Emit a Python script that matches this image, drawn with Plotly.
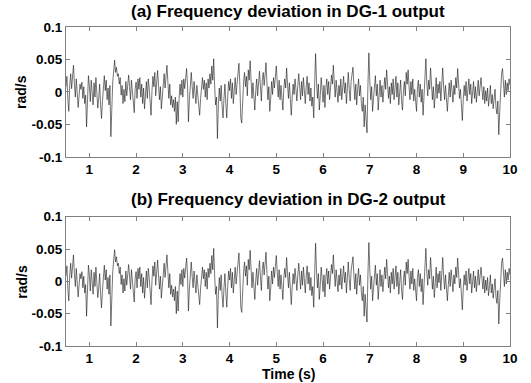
import plotly.graph_objects as go

# Sampling of the recorded traces (s)
t_start = 0.5
dt = 0.02

# Frequency deviation in DG-1 output (rad/s)
dg1_freq = [
    0.008, 0.024, -0.012, -0.030, 0.010, 0.028, 0.005, 0.018, 0.041, 0.012,
    -0.008, 0.020, 0.003, -0.024, -0.006, 0.012, 0.004, 0.015, -0.010, 0.008,
    -0.018, -0.005, -0.054, -0.012, 0.025,
    0.010, -0.015, 0.018, 0.002, -0.020, 0.014, -0.008, 0.022, 0.000, -0.025,
    -0.010, 0.012, -0.020, -0.041, -0.015, 0.008, 0.025, 0.002, 0.018, -0.012,
    0.006, -0.020, 0.010, -0.069, -0.018,
    0.015, 0.032, 0.049, 0.030, 0.038, 0.024, 0.028, 0.012, 0.022, -0.005,
    0.010, -0.018, 0.004, -0.015, 0.016, -0.006, 0.012, 0.026, 0.008, -0.012,
    0.018, 0.002, -0.014, -0.032, 0.005,
    0.015, -0.010, 0.020, 0.004, 0.022, -0.008, 0.012, -0.018, 0.006, -0.026,
    -0.004, 0.016, -0.010, 0.020, 0.006, -0.014, -0.036, 0.002, 0.024, 0.008,
    0.030, -0.006, 0.018, 0.033, 0.010,
    -0.012, 0.008, -0.026, -0.008, 0.014, 0.028, 0.006, 0.022, 0.041, 0.015,
    -0.010, 0.012, -0.020, -0.006, -0.024, -0.012, -0.030, -0.008, -0.050, -0.015,
    -0.046, -0.010, 0.012, -0.005, 0.018,
    -0.008, 0.020, 0.005, 0.026, 0.036, 0.010, -0.046, -0.012, 0.014, 0.030,
    0.008, -0.010, 0.016, 0.002, -0.018, 0.010, -0.006, -0.022, -0.036, -0.010,
    0.012, 0.022, 0.004, 0.018, -0.008,
    0.014, -0.012, 0.020, 0.006, 0.028, 0.012, 0.040, 0.018, 0.051, 0.010,
    -0.020, -0.008, -0.072, -0.020, 0.006, -0.014, 0.010, -0.022, -0.040, -0.010,
    0.012, -0.018, -0.040, -0.008, 0.016,
    0.002, 0.020, -0.010, 0.014, -0.018, 0.006, 0.022, -0.004, 0.012, 0.028,
    0.044, 0.010, -0.040, -0.048, -0.012, 0.015, 0.030, 0.008, 0.024, -0.006,
    0.034, 0.018, 0.048, 0.012, -0.010,
    0.014, -0.016, -0.028, 0.002, 0.020, -0.006, 0.016, 0.032, 0.008, -0.014,
    0.018, 0.030, 0.010, 0.026, 0.045, 0.012, -0.012, 0.008, -0.030, -0.010,
    0.016, -0.004, 0.022, 0.006, 0.028,
    0.040, 0.014, -0.008, 0.018, -0.012, 0.010, -0.020, -0.028, 0.004, 0.020,
    0.006, 0.037, 0.012, -0.010, 0.014, -0.016, -0.036, -0.008, 0.012, -0.004,
    0.020, 0.004, -0.014, 0.010, 0.028,
    0.008, -0.012, 0.016, -0.006, 0.022, 0.004, -0.018, 0.008, 0.024, -0.004,
    0.014, -0.014, 0.006, -0.022, -0.008, -0.040, 0.010, 0.059, 0.016, -0.010,
    0.012, -0.028, -0.006, 0.022, 0.004,
    -0.016, 0.010, -0.024, 0.006, 0.020, -0.004, 0.016, -0.012, 0.008, 0.026,
    0.012, 0.041, 0.014, -0.008, 0.018, 0.002, -0.016, 0.010, -0.006, 0.020,
    -0.012, 0.006, 0.024, -0.002, 0.014,
    -0.018, 0.008, 0.030, 0.004, -0.014, 0.016, 0.026, 0.038, 0.010, -0.012,
    0.012, -0.020, 0.004, 0.020, -0.006, 0.010, -0.018, -0.030, -0.008, -0.054,
    -0.020, -0.040, -0.063, 0.010, 0.060,
    0.018, -0.012, 0.008, -0.030, -0.010, 0.014, 0.025, -0.006, 0.012, -0.028,
    0.002, 0.018, -0.008, 0.010, -0.016, 0.006, 0.022, 0.004, 0.034, 0.012,
    -0.010, 0.008, -0.018, 0.014, -0.004,
    0.020, -0.012, 0.006, 0.024, -0.008, 0.014, -0.020, 0.004, 0.018, -0.014,
    -0.028, 0.002, 0.016, -0.006, 0.030, 0.012, 0.034, 0.008, -0.012, 0.016,
    -0.004, 0.020, -0.014, 0.004, -0.020,
    -0.030, 0.006, 0.018, -0.008, 0.012, -0.016, 0.004, -0.036, -0.010, 0.020,
    0.051, 0.014, -0.006, 0.018, 0.004, 0.037, 0.010, -0.012, 0.008, -0.025,
    -0.004, 0.022, -0.010, 0.012, -0.002,
    0.016, -0.014, 0.020, 0.037, 0.008, -0.012, 0.010, -0.022, -0.030, -0.006,
    0.014, -0.008, 0.018, 0.002, -0.016, 0.010, -0.004, 0.022, 0.006, 0.036,
    0.012, -0.010, 0.004, -0.020, -0.044,
    -0.012, 0.010, -0.006, 0.016, -0.014, 0.006, 0.020, -0.004, 0.012, -0.018,
    0.002, 0.016, -0.010, 0.008, -0.016, 0.004, 0.018, -0.006, 0.010, 0.022,
    0.004, -0.012, 0.008, -0.018, 0.002,
    -0.014, 0.006, -0.022, -0.008, 0.010, -0.018, -0.004, -0.026, -0.010, 0.004,
    -0.024, -0.034, -0.014, -0.066, -0.030, 0.008, 0.028, 0.036, 0.010, -0.008,
    0.018, -0.004, 0.014, 0.002, 0.020, 0.010,
]

# Frequency deviation in DG-2 output (rad/s): the picture shows the same trace
dg2_freq = list(dg1_freq)

time_s = [round(t_start + dt * i, 2) for i in range(len(dg1_freq))]

x_ticks = [1, 2, 3, 4, 5, 6, 7, 8, 9, 10]
y_ticks = [-0.1, -0.05, 0, 0.05, 0.1]
y_tick_text = ["-0.1", "-0.05", "0", "0.05", "0.1"]

titles = ["(a) Frequency deviation in DG-1 output",
          "(b) Frequency deviation in DG-2 output"]

FONT = "Liberation Sans, Arial, sans-serif"
AXIS_COLOR = "#808080"
LINE_COLOR = "#1a1a1a"

fig = go.Figure()
fig.add_trace(go.Scatter(x=time_s, y=dg1_freq, mode="lines",
                         line=dict(color=LINE_COLOR, width=0.6),
                         xaxis="x", yaxis="y", showlegend=False))
fig.add_trace(go.Scatter(x=time_s, y=dg2_freq, mode="lines",
                         line=dict(color=LINE_COLOR, width=0.6),
                         xaxis="x2", yaxis="y2", showlegend=False))

tick_font = dict(family=FONT, size=13.5, color="black", weight="bold")

def xax(anchor):
    return dict(anchor=anchor, domain=[0, 1], range=[0.5, 10],
                tickvals=x_ticks, ticks="inside", ticklen=4,
                tickcolor=AXIS_COLOR, showline=True, linecolor=AXIS_COLOR,
                linewidth=1, mirror="ticks", showgrid=False, zeroline=False,
                tickfont=tick_font)

def yax(anchor, dom):
    return dict(anchor=anchor, domain=dom, range=[-0.1, 0.1],
                tickvals=y_ticks, ticktext=y_tick_text, ticks="inside",
                ticklen=4, tickcolor=AXIS_COLOR, showline=True,
                linecolor=AXIS_COLOR, linewidth=1, mirror="ticks",
                showgrid=False, zeroline=False, tickfont=tick_font)

fig.update_layout(
    width=531, height=383, autosize=False,
    margin=dict(l=66, r=21, t=27, b=36.5, pad=0),
    paper_bgcolor="white", plot_bgcolor="white",
    xaxis=xax("y"), yaxis=yax("x", [0.5931, 1.0]),
    xaxis2=xax("y2"), yaxis2=yax("x2", [0.0, 0.4053]),
)

ann_font = dict(family=FONT, size=17, color="black", weight="bold")
lab_font = dict(family=FONT, size=14, color="black", weight="bold")
annotations = [
    dict(text=titles[0], x=0.5, y=1.0501, xref="paper", yref="paper",
         xanchor="center", yanchor="middle", showarrow=False, font=ann_font),
    dict(text=titles[1], x=0.5, y=0.4585, xref="paper", yref="paper",
         xanchor="center", yanchor="middle", showarrow=False, font=ann_font),
    dict(text="rad/s", x=-0.101, y=0.797, xref="paper", yref="paper",
         textangle=-90, xanchor="center", yanchor="middle", showarrow=False,
         font=lab_font),
    dict(text="rad/s", x=-0.101, y=0.202, xref="paper", yref="paper",
         textangle=-90, xanchor="center", yanchor="middle", showarrow=False,
         font=lab_font),
    dict(text="Time (s)", x=0.5, y=-0.0865, xref="paper", yref="paper",
         xanchor="center", yanchor="middle", showarrow=False, font=lab_font),
]
fig.update_layout(annotations=annotations)

fig.write_html("out.html")
